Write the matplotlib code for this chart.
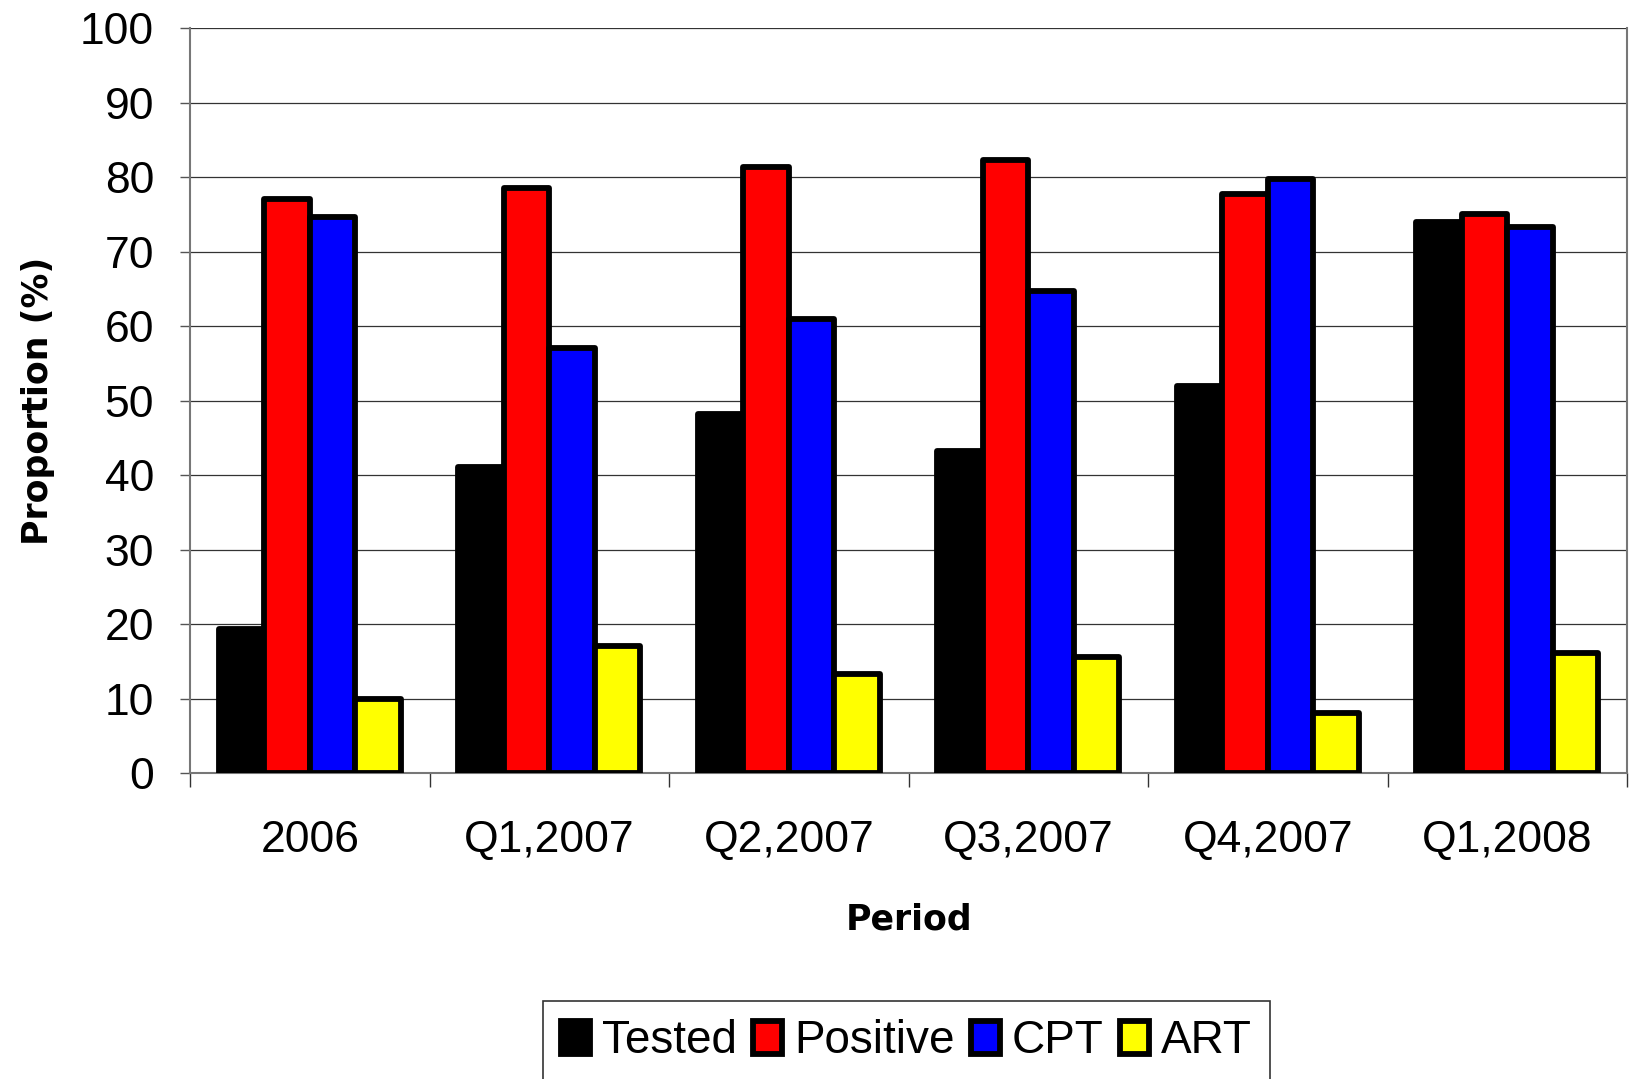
import matplotlib.pyplot as plt
import numpy as np

plt.rcParams["font.family"] = ["Liberation Sans", "DejaVu Sans"]

# data
periods = ["2006", "Q1,2007", "Q2,2007", "Q3,2007", "Q4,2007", "Q1,2008"]
tested = [19.3, 41.1, 48.2, 43.2, 52.0, 73.9]
positive = [77.1, 78.5, 81.3, 82.3, 77.7, 75.1]
cpt = [74.7, 57.0, 60.9, 64.7, 79.7, 73.3]
art = [9.9, 17.0, 13.3, 15.6, 8.0, 16.1]

series = [("Tested", tested, "#000000"),
          ("Positive", positive, "#ff0000"),
          ("CPT", cpt, "#0000ff"),
          ("ART", art, "#ffff00")]

fig = plt.figure(figsize=(16.32, 10.79), dpi=100)
ax = fig.add_axes([0.1165, 0.2836, 0.8805, 0.6904])

x = np.arange(len(periods))
w = 0.19
for i, (name, vals, col) in enumerate(series):
    ax.bar(x + (i - 1.5) * w, vals, w, color=col, edgecolor="black",
           linewidth=4.2, joinstyle="round", label=name, zorder=3)

ax.set_xlim(-0.5, len(periods) - 0.5)
ax.set_ylim(0, 100)
ax.set_yticks(np.arange(0, 101, 10))
ax.yaxis.grid(True, color="#333333", linewidth=0.9, zorder=0)
ax.tick_params(axis="y", labelsize=32, length=7, width=1, color="#555555", pad=19)

# category boundaries as ticks, labels on minor ticks at centres
ax.set_xticks(np.arange(-0.5, len(periods), 1.0))
ax.set_xticklabels([])
ax.tick_params(axis="x", which="major", length=10, width=1, color="#333333")
ax.set_xticks(x, minor=True)
ax.set_xticklabels(periods, minor=True)
ax.tick_params(axis="x", which="minor", length=0, labelsize=32, pad=34)

for s in ax.spines.values():
    s.set_color("#777777")
    s.set_linewidth(1.5)
ax.spines["top"].set_visible(False)

ax.set_xlabel("Period", fontsize=25, fontweight="bold", labelpad=30,
              family="DejaVu Sans")
ax.set_ylabel("Proportion (%)", fontsize=25, fontweight="bold", labelpad=18,
              family="DejaVu Sans")

leg = fig.legend(loc="upper center", bbox_to_anchor=(0.5555, 0.0723), ncol=4,
                 frameon=True, fancybox=False, edgecolor="black",
                 handlelength=0.62, handleheight=0.75, handletextpad=0.27,
                 columnspacing=0.36, borderpad=0.4, borderaxespad=0,
                 prop={"family": ["Liberation Sans Narrow", "Liberation Sans"], "size": 33})
leg.get_frame().set_linewidth(1.2)

fig.savefig("out.png", dpi=100)
